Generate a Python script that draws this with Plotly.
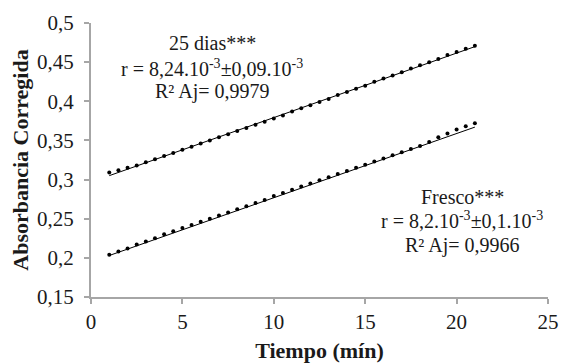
import plotly.graph_objects as go

# Time (min)
tiempo = [1, 1.5, 2, 2.5, 3, 3.5, 4, 4.5, 5, 5.5, 6, 6.5, 7, 7.5, 8, 8.5, 9, 9.5, 10, 10.5,
          11, 11.5, 12, 12.5, 13, 13.5, 14, 14.5, 15, 15.5, 16, 16.5, 17, 17.5, 18, 18.5,
          19, 19.5, 20, 20.5, 21]

# Corrected absorbance, sample stored 25 days
abs_25dias = [0.309, 0.312, 0.315, 0.318, 0.322, 0.326, 0.330, 0.334, 0.338, 0.342, 0.346,
              0.350, 0.354, 0.358, 0.362, 0.366, 0.370, 0.374, 0.378, 0.382, 0.387, 0.391,
              0.395, 0.399, 0.403, 0.408, 0.412, 0.416, 0.420, 0.425, 0.429, 0.433, 0.437,
              0.442, 0.446, 0.450, 0.454, 0.459, 0.463, 0.467, 0.471]

# Corrected absorbance, fresh sample
abs_fresco = [0.204, 0.208, 0.212, 0.217, 0.221, 0.225, 0.230, 0.234, 0.238, 0.242, 0.246,
              0.250, 0.254, 0.258, 0.262, 0.266, 0.270, 0.274, 0.279, 0.283, 0.287, 0.291,
              0.295, 0.299, 0.303, 0.307, 0.311, 0.315, 0.319, 0.323, 0.327, 0.331, 0.335,
              0.339, 0.343, 0.348, 0.354, 0.359, 0.364, 0.368, 0.372]

# Linear trend lines (endpoints)
trend_x = [1, 21]
trend_25dias = [0.3050, 0.4698]
trend_fresco = [0.2030, 0.3670]

y_tickvals = [0.15, 0.2, 0.25, 0.3, 0.35, 0.4, 0.45, 0.5]
y_ticktext = ["0,15", "0,2", "0,25", "0,3", "0,35", "0,4", "0,45", "0,5"]
x_tickvals = [0, 5, 10, 15, 20, 25]
x_ticktext = ["0", "5", "10", "15", "20", "25"]

SERIF = "Liberation Serif, Times New Roman, serif"
TXT = "#1a1a1a"

fig = go.Figure()
for yv in (trend_25dias, trend_fresco):
    fig.add_trace(go.Scatter(x=trend_x, y=yv, mode="lines",
                             line=dict(color="black", width=1),
                             showlegend=False, hoverinfo="skip"))
for yv in (abs_25dias, abs_fresco):
    fig.add_trace(go.Scatter(x=tiempo, y=yv, mode="markers",
                             marker=dict(color="black", size=4, symbol="circle"),
                             showlegend=False, hoverinfo="skip"))

annots = [
    (6.62, 0.4745, "25 dias***"),
    (6.62, 0.4425, "r = 8,24.10<sup>-3</sup>±0,09.10<sup>-3</sup>"),
    (6.62, 0.4119, "R² Aj= 0,9979"),
    (20.3, 0.2778, "Fresco***"),
    (20.3, 0.2484, "r = 8,2.10<sup>-3</sup>±0,1.10<sup>-3</sup>"),
    (20.3, 0.2164, "R² Aj= 0,9966"),
]
for ax, ay, t in annots:
    fig.add_annotation(x=ax, y=ay, text=t, showarrow=False, xanchor="center", yanchor="middle",
                       font=dict(family=SERIF, size=20, color=TXT))

axis_common = dict(showline=True, linecolor="#a6a6a6", linewidth=2, ticks="outside",
                   tickcolor="#a6a6a6", ticklen=5, tickwidth=1.5, showgrid=False, zeroline=False,
                   automargin=False,
                   tickfont=dict(family=SERIF, size=21, color=TXT))

fig.update_layout(
    width=567, height=363,
    margin=dict(l=91, r=19, t=23, b=66),
    paper_bgcolor="white", plot_bgcolor="white",
    xaxis=dict(range=[0, 25], tickvals=x_tickvals, ticktext=x_ticktext,
               title=dict(text="<b>Tiempo (mín)</b>", font=dict(family=SERIF, size=22, color=TXT),
                          standoff=10),
               **axis_common),
    yaxis=dict(range=[0.15, 0.5], tickvals=y_tickvals, ticktext=y_ticktext,
               ticklabelstandoff=6,
               title=dict(text="<b>Absorbancia Corregida</b>", font=dict(family=SERIF, size=22, color=TXT),
                          standoff=2),
               **axis_common),
)

fig.write_html("out.html")
